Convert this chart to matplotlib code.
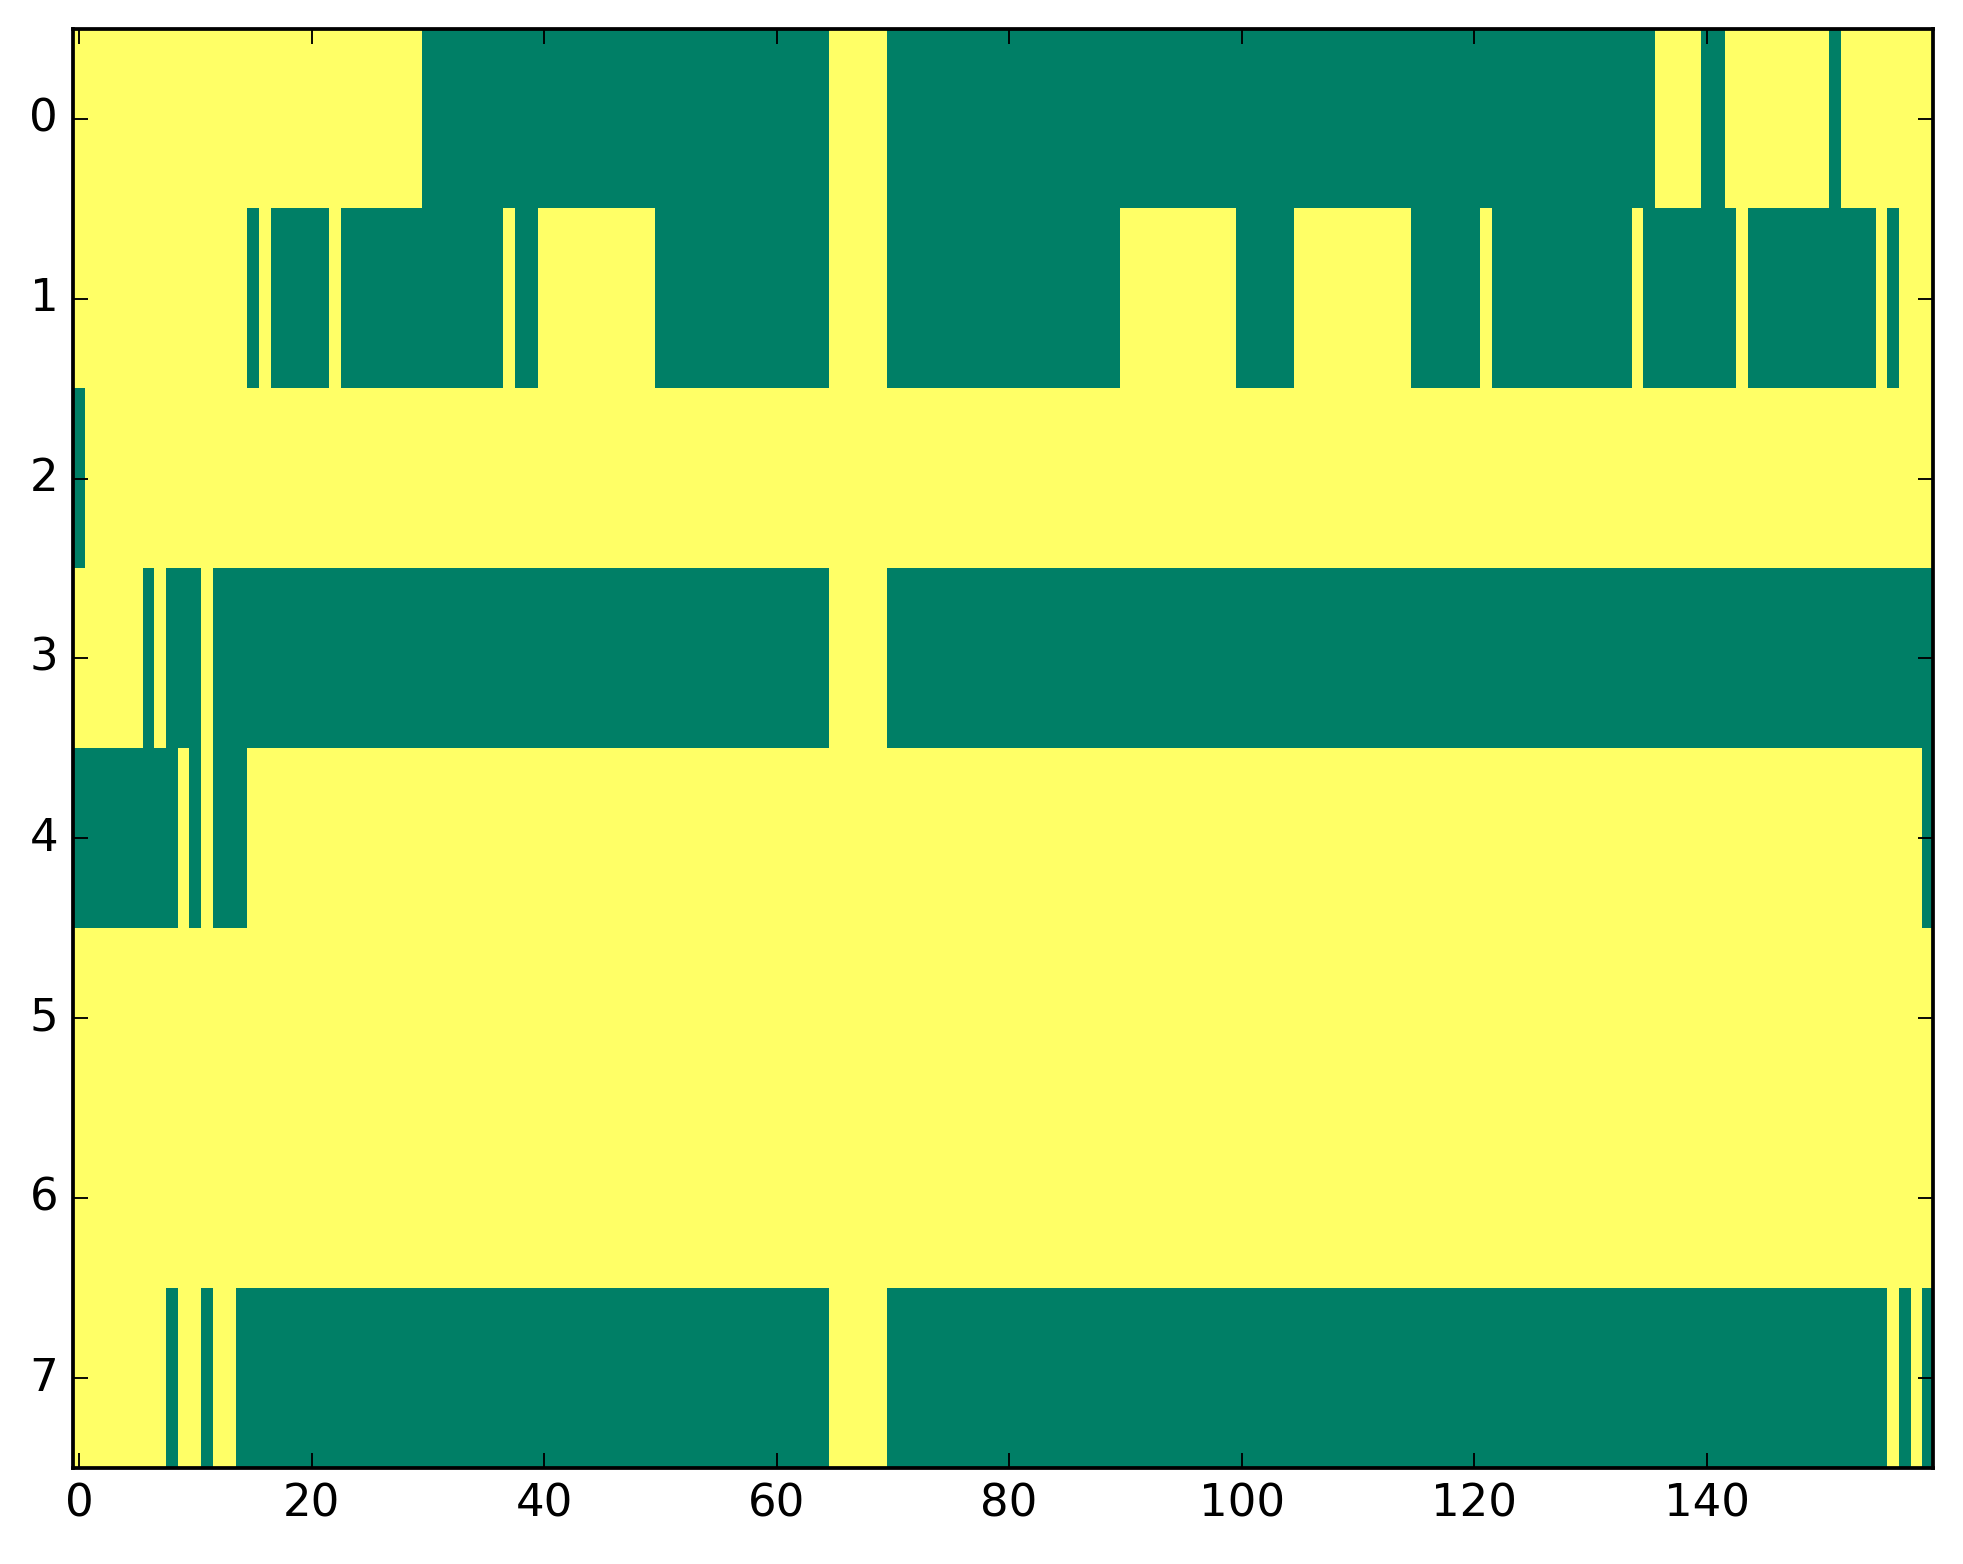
import numpy as np
import matplotlib
matplotlib.use('Agg')
import matplotlib.pyplot as plt

# green (0) column ranges per row, inclusive; everything else is yellow (1)
n_cols = 160
row0_green = [(30, 64), (70, 135), (140, 141), (151, 151)]
row1_green = [(15, 15), (17, 21), (23, 36), (38, 39), (50, 64), (70, 89),
              (100, 104), (115, 120), (122, 133), (135, 142), (144, 154), (156, 156)]
row2_green = [(0, 0)]
row3_green = [(6, 6), (8, 10), (12, 64), (70, 159)]
row4_green = [(0, 8), (10, 10), (12, 14), (159, 159)]
row5_green = []
row6_green = []
row7_green = [(8, 8), (11, 11), (14, 64), (70, 155), (157, 157), (159, 159)]

rows = [row0_green, row1_green, row2_green, row3_green,
        row4_green, row5_green, row6_green, row7_green]

grid = np.ones((len(rows), n_cols))
for i, runs in enumerate(rows):
    for start, stop in runs:
        grid[i, start:stop + 1] = 0

plt.style.use('classic')
dpi = 270
fig = plt.figure(figsize=(1963 / dpi, 1564 / dpi), dpi=dpi)
fig.subplots_adjust(left=0.0373, right=0.9849, top=0.9816, bottom=0.0614)
ax = fig.add_subplot(111)
ax.imshow(grid, cmap='summer', aspect='auto', interpolation='nearest', vmin=0, vmax=1)
ax.set_xticks(np.arange(0, 141, 20))
ax.set_yticks(np.arange(0, 8))
ax.set_xlim(-0.5, n_cols - 0.5)
ax.set_ylim(len(rows) - 0.5, -0.5)

fig.savefig('out.png', dpi=dpi, facecolor='white')
